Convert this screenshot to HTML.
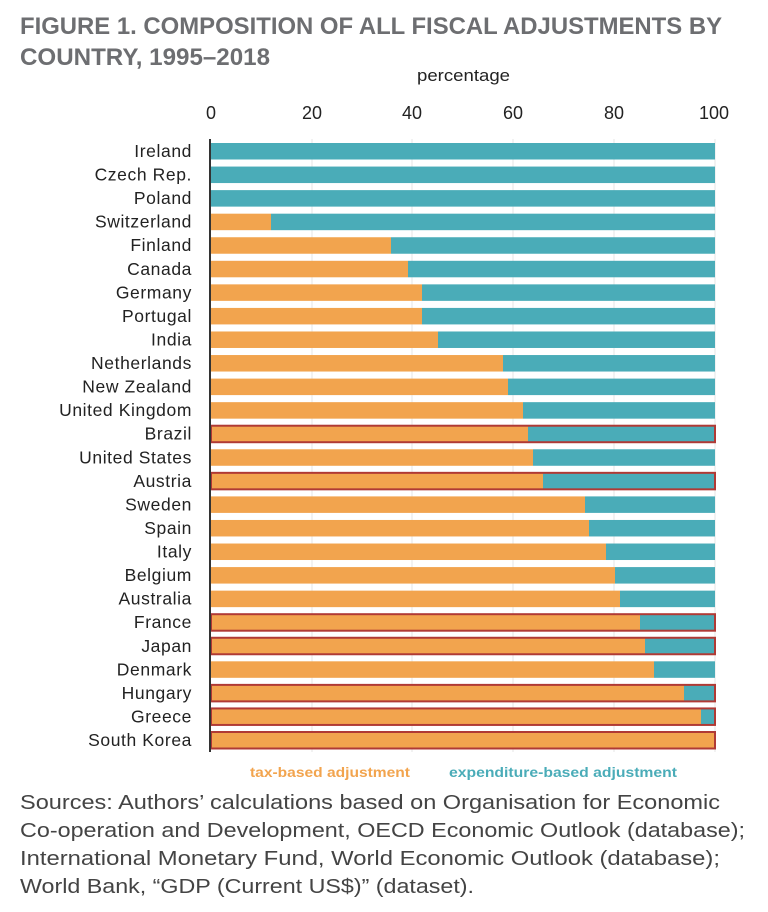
<!DOCTYPE html>
<html><head><meta charset="utf-8"><style>
html,body{margin:0;padding:0;background:#fff;}
svg{display:block;}
text{font-family:"Liberation Sans",sans-serif;}
</style></head><body>
<svg width="768" height="912" viewBox="0 0 768 912" xmlns="http://www.w3.org/2000/svg">
<text x="20" y="34" font-size="24" font-weight="bold" fill="#6d6e71" textLength="702" lengthAdjust="spacingAndGlyphs">FIGURE 1. COMPOSITION OF ALL FISCAL ADJUSTMENTS BY</text>
<text x="20" y="65" font-size="24" font-weight="bold" fill="#6d6e71" textLength="250" lengthAdjust="spacingAndGlyphs">COUNTRY, 1995–2018</text>
<text x="417" y="81" font-size="17" fill="#222" textLength="93" lengthAdjust="spacingAndGlyphs">percentage</text>
<g font-size="18" fill="#222" text-anchor="middle">
<text x="211" y="119">0</text><text x="312" y="119">20</text><text x="412" y="119">40</text><text x="513" y="119">60</text><text x="614" y="119">80</text><text x="714" y="119">100</text>
</g>
<g stroke="#e6e6e6" stroke-width="1">
<line x1="312" y1="139" x2="312" y2="752"/><line x1="412" y1="139" x2="412" y2="752"/><line x1="513" y1="139" x2="513" y2="752"/><line x1="614" y1="139" x2="614" y2="752"/><line x1="715" y1="139" x2="715" y2="752"/>
</g>
<g id="bars"></g>
<line x1="210" y1="139" x2="210" y2="752" stroke="#333" stroke-width="2"/>
<g id="labels" font-size="17.5" fill="#222" text-anchor="end" letter-spacing="0.6"></g>
<text x="250" y="777" font-size="14" font-weight="bold" fill="#f2a44e" textLength="160" lengthAdjust="spacingAndGlyphs">tax-based adjustment</text>
<text x="449" y="777" font-size="14" font-weight="bold" fill="#4aacb8" textLength="228" lengthAdjust="spacingAndGlyphs">expenditure-based adjustment</text>
<g font-size="20" fill="#444">
<text x="20" y="809" textLength="700" lengthAdjust="spacingAndGlyphs">Sources: Authors’ calculations based on Organisation for Economic</text>
<text x="20" y="837" textLength="725" lengthAdjust="spacingAndGlyphs">Co-operation and Development, OECD Economic Outlook (database);</text>
<text x="20" y="865" textLength="700" lengthAdjust="spacingAndGlyphs">International Monetary Fund, World Economic Outlook (database);</text>
<text x="20" y="893" textLength="454" lengthAdjust="spacingAndGlyphs">World Bank, “GDP (Current US$)” (dataset).</text>
</g>
</svg>
<script>
var d=[["Ireland",211,0],["Czech Rep.",211,0],["Poland",211,0],["Switzerland",271,0],["Finland",391,0],["Canada",408,0],["Germany",422,0],["Portugal",422,0],["India",438,0],["Netherlands",503,0],["New Zealand",508,0],["United Kingdom",523,0],["Brazil",528,1],["United States",533,0],["Austria",543,1],["Sweden",585,0],["Spain",589,0],["Italy",606,0],["Belgium",615,0],["Australia",620,0],["France",640,1],["Japan",645,1],["Denmark",654,0],["Hungary",684,1],["Greece",701,1],["South Korea",715,1]];
var ns="http://www.w3.org/2000/svg",b=document.getElementById("bars"),l=document.getElementById("labels");
function el(t,a,p){var e=document.createElementNS(ns,t);for(var k in a)e.setAttribute(k,a[k]);p.appendChild(e);return e;}
d.forEach(function(r,i){var y=143+i*23.56,h=16.5;
if(r[1]>211)el("rect",{x:211,y:y,width:r[1]-211,height:h,fill:"#f2a44e"},b);
if(r[1]<715)el("rect",{x:r[1],y:y,width:715-r[1],height:h,fill:"#4aacb8"},b);
if(r[2])el("rect",{x:211,y:y,width:504,height:h,fill:"none",stroke:"#b03a35","stroke-width":2},b);
var t=el("text",{x:192,y:y+14},l);t.textContent=r[0];});
</script>
</body></html>
